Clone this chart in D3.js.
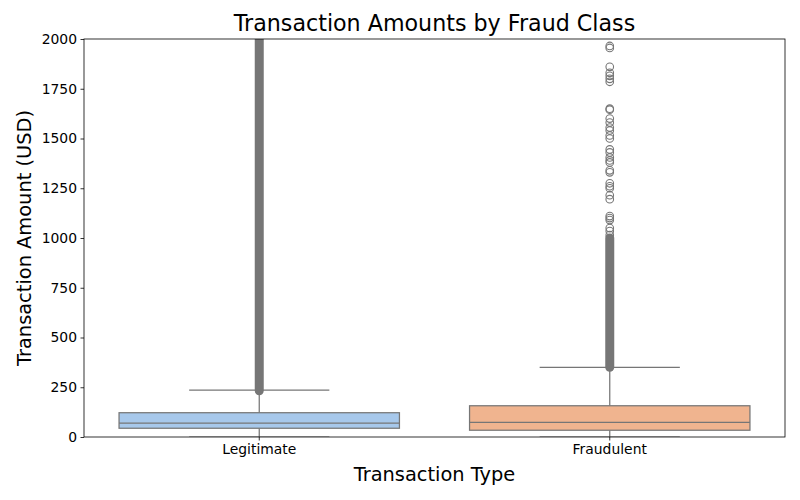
<!DOCTYPE html>
<html><head><meta charset="utf-8">
<script src="https://cdn.jsdelivr.net/npm/d3@7"></script>
<style>body{margin:0;background:#fff;} svg{display:block;font-family:"DejaVu Sans",sans-serif;}</style>
</head><body>
<svg id="chart" width="800" height="500"></svg>
<script>
const categories = ["Legitimate", "Fraudulent"];
const boxColors = ["#a7c8eb", "#f0b48f"];
// five-number summaries: [lowerWhisker, q1, median, q3, upperWhisker]
const boxStats = [
  [0, 44, 70, 122, 235],
  [0, 34, 74, 157, 350]
];
// densely packed outlier runs [from, to]
const denseOutlierRuns = [
  [[232, 2100]],
  [[350, 1000]]
];
// individually visible outliers
const sparseOutliers = [
  [],
  [1965, 1955, 1860, 1830, 1815, 1800, 1785, 1650, 1645, 1600, 1580, 1555, 1540, 1515, 1500,
   1445, 1430, 1405, 1390, 1380, 1340, 1330, 1275, 1260, 1250, 1215, 1195, 1110, 1100, 1090,
   1050, 1035, 1015]
];
const yTicks = [0, 250, 500, 750, 1000, 1250, 1500, 1750, 2000];

const svg = d3.select("#chart");
const m = {left: 84, right: 785, top: 39, bottom: 437};
const x = d3.scaleBand().domain(categories).range([m.left, m.right]);
const y = d3.scaleLinear().domain([0, 2000]).range([m.bottom, m.top]);
const lineCol = "#767676";

svg.append("defs").append("clipPath").attr("id", "clip")
  .append("rect").attr("x", m.left).attr("y", m.top)
  .attr("width", m.right - m.left).attr("height", m.bottom - m.top);

const plot = svg.append("g").attr("clip-path", "url(#clip)");

categories.forEach((c, i) => {
  const s = boxStats[i];
  const cx = x(c) + x.bandwidth() / 2;
  const bw = x.bandwidth() * 0.8;
  const cw = x.bandwidth() * 0.4;
  const g = plot.append("g");
  g.append("line").attr("x1", cx).attr("x2", cx).attr("y1", y(s[3])).attr("y2", y(s[4]))
    .attr("stroke", lineCol).attr("stroke-width", 1.25);
  g.append("line").attr("x1", cx).attr("x2", cx).attr("y1", y(s[1])).attr("y2", y(s[0]))
    .attr("stroke", lineCol).attr("stroke-width", 1.25);
  [s[0], s[4]].forEach(v => {
    g.append("line").attr("x1", cx - cw / 2).attr("x2", cx + cw / 2).attr("y1", y(v)).attr("y2", y(v))
      .attr("stroke", lineCol).attr("stroke-width", 1.25);
  });
  g.append("rect").attr("x", cx - bw / 2).attr("width", bw)
    .attr("y", y(s[3])).attr("height", y(s[1]) - y(s[3]))
    .attr("fill", boxColors[i]).attr("stroke", lineCol).attr("stroke-width", 1.25);
  g.append("line").attr("x1", cx - bw / 2).attr("x2", cx + bw / 2).attr("y1", y(s[2])).attr("y2", y(s[2]))
    .attr("stroke", lineCol).attr("stroke-width", 1.25);
  denseOutlierRuns[i].forEach(r => {
    g.append("line").attr("x1", cx).attr("x2", cx).attr("y1", y(r[0])).attr("y2", y(r[1]))
      .attr("stroke", lineCol).attr("stroke-width", 9).attr("stroke-linecap", "round");
  });
  g.selectAll("circle.o").data(sparseOutliers[i]).join("circle")
    .attr("cx", cx).attr("cy", d => y(d)).attr("r", 3.8)
    .attr("fill", "none").attr("stroke", lineCol).attr("stroke-width", 1.1);
});

const yAxis = svg.append("g").attr("transform", `translate(${m.left},0)`)
  .call(d3.axisLeft(y).tickValues(yTicks).tickFormat(d3.format("d")).tickSize(3.5).tickPadding(3.5));
const xAxis = svg.append("g").attr("transform", `translate(0,${m.bottom})`)
  .call(d3.axisBottom(x).tickSize(3.5).tickPadding(3.5));
[yAxis, xAxis].forEach(a => {
  a.select(".domain").remove();
  a.selectAll("text").attr("font-family", "DejaVu Sans").attr("font-size", 13.9).attr("fill", "#000");
  a.selectAll("line").attr("stroke", "#000").attr("stroke-width", 0.8);
});

svg.append("rect").attr("x", m.left).attr("y", m.top)
  .attr("width", m.right - m.left).attr("height", m.bottom - m.top)
  .attr("fill", "none").attr("stroke", "#000").attr("stroke-width", 0.8);

svg.append("text").attr("x", (m.left + m.right) / 2).attr("y", 31)
  .attr("text-anchor", "middle").attr("font-size", 22.2).text("Transaction Amounts by Fraud Class");
svg.append("text").attr("x", (m.left + m.right) / 2).attr("y", 481)
  .attr("text-anchor", "middle").attr("font-size", 19.4).text("Transaction Type");
svg.append("text").attr("transform", `translate(31,${(m.top + m.bottom) / 2}) rotate(-90)`)
  .attr("text-anchor", "middle").attr("font-size", 19.4).text("Transaction Amount (USD)");
</script>
</body></html>
